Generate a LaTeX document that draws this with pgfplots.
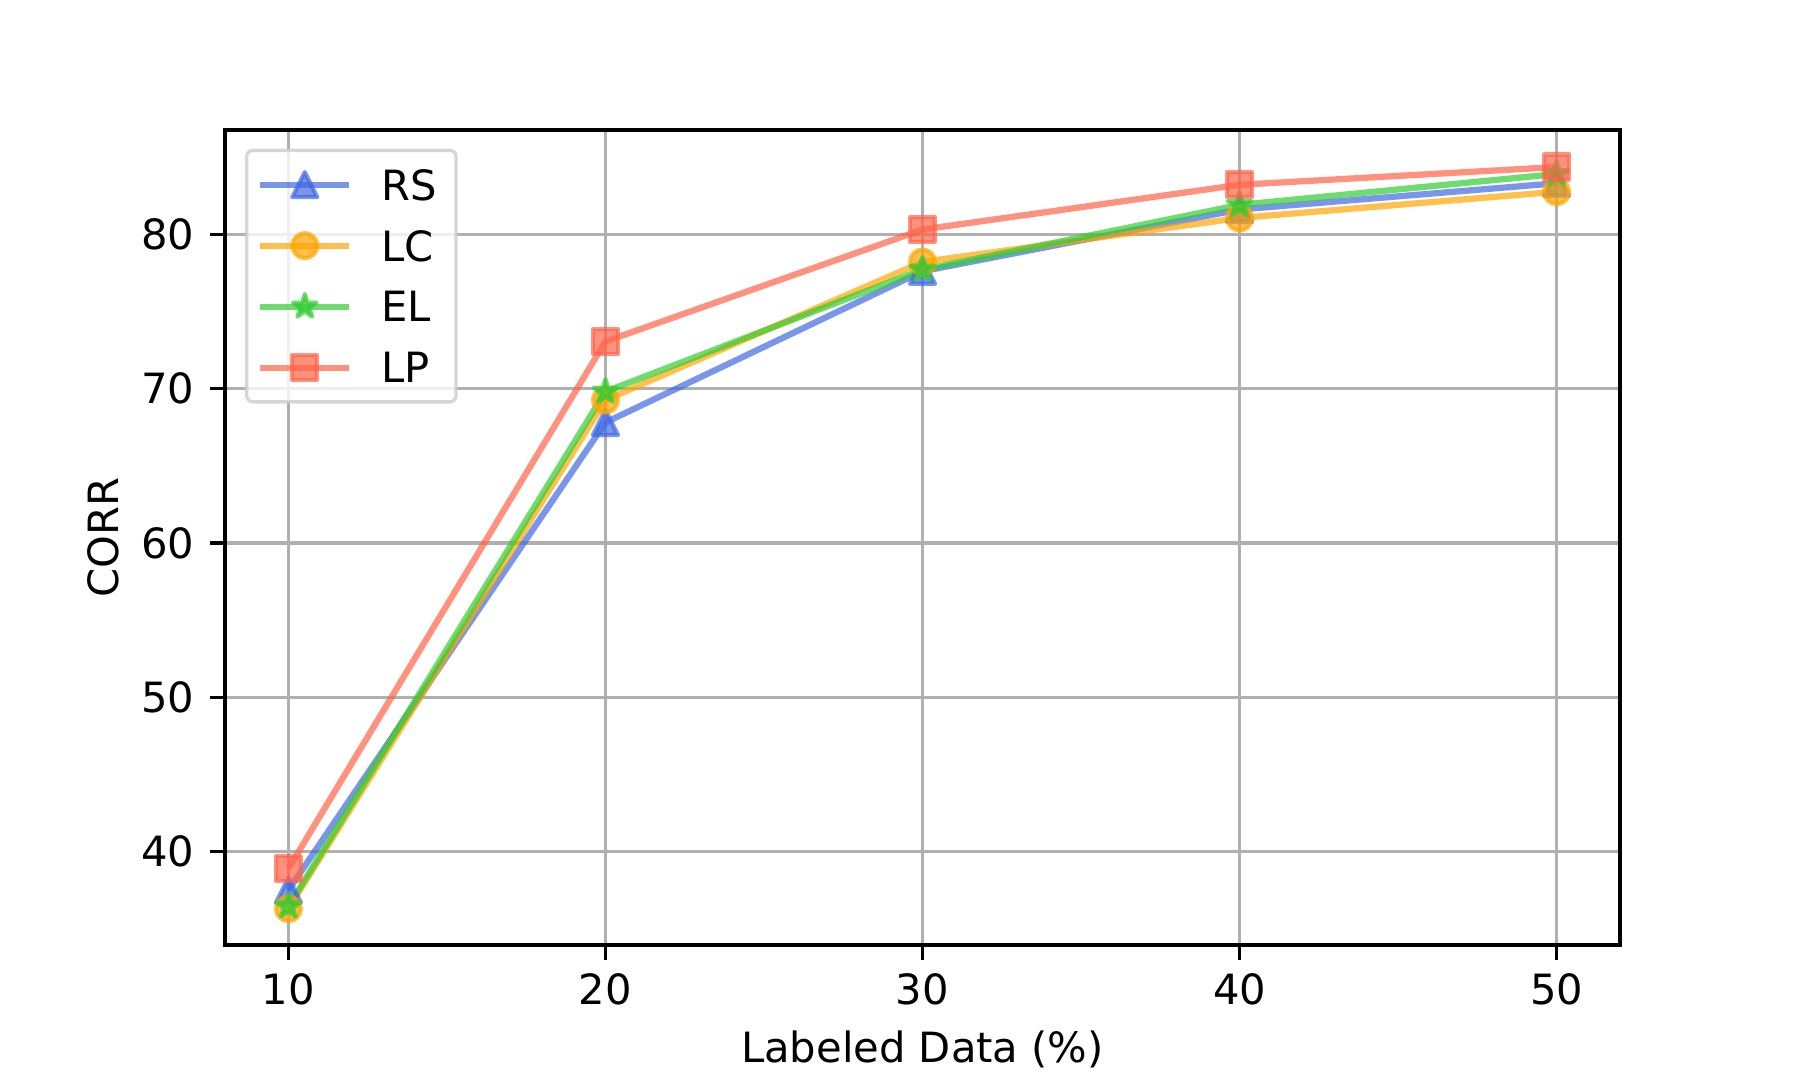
\documentclass[border=0pt]{standalone}
\usepackage{fontspec}
\setmainfont{DejaVu Sans}
\usepackage{pgfplots}
\pgfplotsset{compat=1.18}
\usetikzlibrary{plotmarks}
\definecolor{rsc}{HTML}{4169E1}
\definecolor{lcc}{HTML}{FFA500}
\definecolor{elc}{HTML}{32CD32}
\definecolor{lpc}{HTML}{FF6347}
\definecolor{gridc}{HTML}{B0B0B0}
\definecolor{legc}{HTML}{CCCCCC}
\pgfdeclareplotmark{mtri}{%
  \pgfpathmoveto{\pgfqpoint{0pt}{\pgfplotmarksize}}%
  \pgfpathlineto{\pgfqpoint{-\pgfplotmarksize}{-\pgfplotmarksize}}%
  \pgfpathlineto{\pgfqpoint{\pgfplotmarksize}{-\pgfplotmarksize}}%
  \pgfpathclose\pgfusepathqfillstroke}
\pgfdeclareplotmark{mstar}{%
  \pgfpathmoveto{\pgfpointpolar{90}{\pgfplotmarksize}}%
  \pgfpathlineto{\pgfpointpolar{126}{0.381966\pgfplotmarksize}}%
  \pgfpathlineto{\pgfpointpolar{162}{\pgfplotmarksize}}%
  \pgfpathlineto{\pgfpointpolar{198}{0.381966\pgfplotmarksize}}%
  \pgfpathlineto{\pgfpointpolar{234}{\pgfplotmarksize}}%
  \pgfpathlineto{\pgfpointpolar{270}{0.381966\pgfplotmarksize}}%
  \pgfpathlineto{\pgfpointpolar{306}{\pgfplotmarksize}}%
  \pgfpathlineto{\pgfpointpolar{342}{0.381966\pgfplotmarksize}}%
  \pgfpathlineto{\pgfpointpolar{18}{\pgfplotmarksize}}%
  \pgfpathlineto{\pgfpointpolar{54}{0.381966\pgfplotmarksize}}%
  \pgfpathclose\pgfusepathqfillstroke}
\newcommand{\fs}{\fontsize{16.67}{20}\selectfont}
\begin{document}
\begin{tikzpicture}[font=\fs]
\path[use as bounding box] (-90pt,-54pt) rectangle (630pt,378pt);
\begin{axis}[
  at={(0,0)}, anchor=south west,
  scale only axis, width=558pt, height=326pt,
  xmin=8, xmax=52, ymin=33.95, ymax=86.75,
  xtick={10,20,30,40,50}, ytick={40,50,60,70,80},
  xtick pos=left, ytick pos=left,
  tick align=outside, major tick length=5.83pt,
  tick style={black, line width=1.33pt},
  axis line style={black, line width=1.33pt},
  grid=major, grid style={gridc, line width=1.33pt},
  /pgf/number format/assume math mode=true,
  tick label style={font=\fs},
  xticklabel style={anchor=north, inner sep=0pt, yshift=-5.5pt},
  yticklabel style={anchor=east, inner sep=0pt, xshift=-6.2pt},
  xlabel={Labeled Data (\%)}, ylabel={CORR},
  label style={font=\fs},
  xlabel style={at={(axis description cs:0.5,-0.14356)}, anchor=base, inner sep=0pt},
  ylabel style={at={(axis description cs:-0.07599,0.5)}, anchor=base, inner sep=0pt},
  legend cell align=left,
  legend image code/.code={\draw[mark repeat=2,mark phase=2,#1] plot coordinates {(0pt,0pt) (17.8pt,0pt) (35.6pt,0pt)};},
  legend style={at={(0,1)}, anchor=north west, xshift=8pt, yshift=-7.5pt,
    draw=legc, draw opacity=0.8, line width=1.33pt, rounded corners=2.5pt,
    fill=white, fill opacity=0.8, text opacity=1,
    inner xsep=4.2pt, inner ysep=1.5pt, row sep=0pt,
    font=\fs,
    nodes={inner sep=0pt, minimum height=24.4pt, text depth=0pt, rounded corners=0pt},
    /tikz/every odd column/.style={column sep=11.5pt}},
  every axis plot/.append style={line width=2.5pt, line join=round, opacity=0.7, mark size=5pt,
    mark options={solid, line width=1.67pt}},
]
\addplot[color=rsc, mark=mtri] coordinates {(10,37.5) (20,67.8) (30,77.6) (40,81.6) (50,83.3)};
\addlegendentry{RS\hspace*{3.6pt}}
\addplot[color=lcc, mark=*] coordinates {(10,36.3) (20,69.25) (30,78.2) (40,81.05) (50,82.75)};
\addlegendentry{LC}
\addplot[color=elc, mark=mstar] coordinates {(10,36.45) (20,69.8) (30,77.7) (40,81.9) (50,83.9)};
\addlegendentry{EL}
\addplot[color=lpc, mark=square*] coordinates {(10,38.9) (20,73.05) (30,80.3) (40,83.2) (50,84.35)};
\addlegendentry{LP}
\end{axis}
\end{tikzpicture}
\end{document}
